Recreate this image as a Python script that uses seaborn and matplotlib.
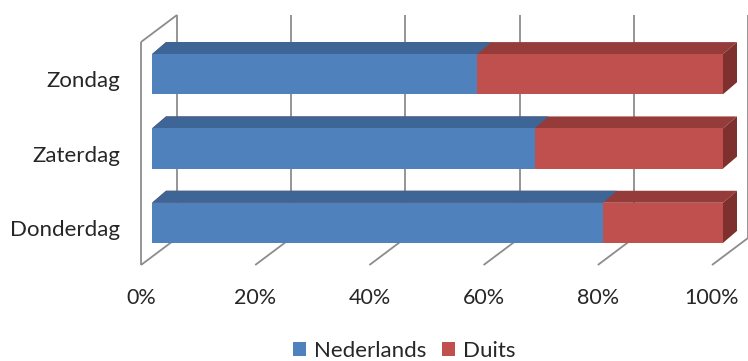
import numpy as np
import pandas as pd
import matplotlib
matplotlib.use("Agg")
import matplotlib.pyplot as plt
from matplotlib.patches import Polygon
import seaborn as sns

# Data: share of visitors by language per day (100% stacked)
dagen = ["Zondag", "Zaterdag", "Donderdag"]
nederlands = [57, 67, 79]
duits = [43, 33, 21]
x_ticks = [0, 20, 40, 60, 80, 100]
x_ticklabels = ["0%", "20%", "40%", "60%", "80%", "100%"]

BLUE, BLUE_TOP = "#4F81BD", "#3D6596"
RED, RED_TOP, RED_SIDE = "#C0504D", "#953C3A", "#7E302E"
GRID = "#8C8C8C"
TEXT = "#262626"
FS = 16

sns.set_theme(style="white")
plt.rcParams["font.family"] = ["Lato", "DejaVu Sans"]

W, H = 748, 361
fig = plt.figure(figsize=(W / 100, H / 100), dpi=100)
# axes = front plane of the 3D floor/walls box
ax = fig.add_axes([141 / W, (H - 265) / H, (712 - 141) / W, (265 - 42) / H])
ax.patch.set_alpha(0)

df = pd.DataFrame({"dag": dagen, "Nederlands": nederlands, "Duits": duits})
df["totaal"] = df["Nederlands"] + df["Duits"]

BAR_W = 0.54
sns.barplot(data=df, x="totaal", y="dag", order=dagen, orient="h", color=RED,
            saturation=1, width=BAR_W, linewidth=0, ax=ax, label="Duits")
sns.barplot(data=df, x="Nederlands", y="dag", order=dagen, orient="h", color=BLUE,
            saturation=1, width=BAR_W, linewidth=0, ax=ax, label="Nederlands")
if ax.get_legend() is not None:
    ax.get_legend().remove()

ax.set_xlim(0, 100)
ax.set_ylim(2.5, -0.5)
ax.set_xticks(x_ticks)
ax.set_xticklabels(x_ticklabels)
ax.set_xlabel("")
ax.set_ylabel("")
for s in ax.spines.values():
    s.set_visible(False)
ax.tick_params(axis="both", length=0, labelsize=FS, colors=TEXT)
ax.tick_params(axis="x", pad=16.5, labelsize=15.5)
ax.tick_params(axis="y", pad=15)

# oblique projection offsets in display pixels (right, up)
WALL_DEPTH = np.array([36.0, 27.0])
BAR_FRONT = np.array([11.0, 5.0])
BAR_BACK = np.array([25.0, 17.0])


def px_to_data(vec):
    p0 = ax.transData.transform((0, 0))
    d = ax.transData.inverted().transform(p0 + vec)
    return d[0], d[1]


bx, by = px_to_data(WALL_DEPTH)
y_floor, y_top = 2.5, -0.5
gkw = dict(color=GRID, lw=1.3, zorder=1, clip_on=False, solid_capstyle="butt")

# back wall gridlines
for t in x_ticks:
    ax.plot([t + bx, t + bx], [y_floor + by, y_top + by], **gkw)
# floor lines
for t in x_ticks:
    ax.plot([t, t + bx], [y_floor, y_floor + by], **gkw)
# left wall edges
ax.plot([0, 0], [y_floor, y_top], **gkw)
ax.plot([0, bx], [y_top, y_top + by], **gkw)

# bars: shift seaborn's rectangles to the bars' front plane, add top/side faces
fx, fy = px_to_data(BAR_FRONT)
kx, ky = px_to_data(BAR_BACK)
faces = [(ax.containers[0], RED_TOP, RED_SIDE), (ax.containers[1], BLUE_TOP, None)]
for cont, top_c, side_c in faces:
    for rect in cont.patches:
        x0, yb0 = rect.get_x(), rect.get_y()
        w, h = rect.get_width(), rect.get_height()
        x1 = x0 + w
        yt, yb = min(yb0, yb0 + h), max(yb0, yb0 + h)
        rect.set_x(x0 + fx)
        rect.set_y(yb0 + fy)
        rect.set_clip_on(False)
        rect.set_zorder(4)
        top = [(x0 + fx, yt + fy), (x1 + fx, yt + fy), (x1 + kx, yt + ky), (x0 + kx, yt + ky)]
        ax.add_patch(Polygon(top, closed=True, facecolor=top_c, edgecolor="none",
                             zorder=3, clip_on=False))
        if side_c is not None:
            side = [(x1 + fx, yt + fy), (x1 + kx, yt + ky), (x1 + kx, yb + ky), (x1 + fx, yb + fy)]
            ax.add_patch(Polygon(side, closed=True, facecolor=side_c, edgecolor="none",
                                 zorder=3, clip_on=False))

handles, labels = ax.get_legend_handles_labels()
order = [labels.index("Nederlands"), labels.index("Duits")]
fig.legend([handles[i] for i in order], [labels[i] for i in order],
           loc="center", bbox_to_anchor=(404 / W, (H - 351) / H), ncol=2,
           frameon=False, fontsize=FS, handlelength=0.6, handleheight=0.6,
           handletextpad=0.35, columnspacing=0.7, labelcolor=TEXT)

fig.savefig("out.png", dpi=100)
